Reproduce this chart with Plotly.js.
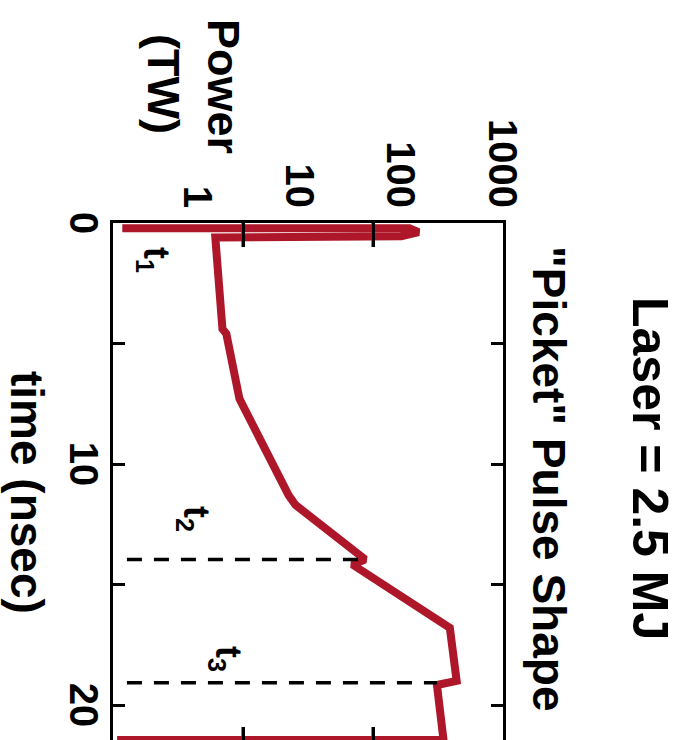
<!DOCTYPE html>
<html><head><meta charset="utf-8">
<script src="https://cdn.plot.ly/plotly-3.0.1.min.js"></script>
<style>
html,body{margin:0;padding:0;background:#fff;overflow:hidden;width:681px;height:740px;}
#wrap{position:absolute;left:0;top:0;width:740px;height:681px;overflow:hidden;transform-origin:0 0;transform:translate(681px,0) rotate(90deg);background:#fff;}
#chart{width:800px;height:681px;}
</style></head><body>
<div id="wrap"><div id="chart"></div></div>
<script>
// Laser pulse shape (time in ns, power in TW)
const timeNs  = [0.22, 0.22, 0.38, 0.55, 0.6, 4.4, 4.6, 7.3, 11.3, 11.7, 13.96, 14.17, 16.8, 19.0, 19.17, 21.45, 21.45];
const powerTW = [0.18, 120, 148, 100, 1.48, 1.74, 1.9, 2.56, 7.8, 9.1, 44, 33, 300, 350, 224, 260, 0.16];

// marker times t2, t3 (dashed lines)
const t2Time = [13.96, 13.96];
const t2Power = [0.2, 40];
const t3Time = [19.08, 19.08];
const t3Power = [0.2, 224];

// t labels
const markLabels = ['t<sub>1</sub>', 't<sub>2</sub>', 't<sub>3</sub>'];
const markLabelTime = [1.54, 12.3, 18.1];
const markLabelPower = [0.37, 0.92, 1.9];

// axis ticks
const timeTickVals = [0, 5, 10, 15, 20];
const timeTickText = ['0', '', '10', '', '20'];
const powerTickVals = [1, 10, 100, 1000];
const powerTickText = ['1', '10', '100', '1000'];

const FONT = 'Liberation Sans, Arial, Helvetica, sans-serif';
const RED = '#AD1729';

const powerRange = [-0.836, 3.0];
// frame tick marks split the power frame in thirds
const frameTickLogs = [1, 2].map(k => powerRange[0] + k * (powerRange[1] - powerRange[0]) / 3);
const frameTickVals = frameTickLogs.map(l => Math.pow(10, l));

const traces = [
  {x: timeNs, y: powerTW, mode: 'lines', line: {color: RED, width: 8, simplify: false}, hoverinfo: 'skip', showlegend: false},
  {x: t2Time, y: t2Power, yaxis: 'y2', mode: 'lines', line: {color: '#000', width: 3.5, dash: '15px,12px'}, showlegend: false},
  {x: t3Time, y: t3Power, yaxis: 'y2', mode: 'lines', line: {color: '#000', width: 3.5, dash: '15px,12px'}, showlegend: false}
];

// plot area in px: u 223..751, v 178..568
const L = 223, T = 178, W = 528, H = 390.5;
const px = u => (u - L) / W;
const py = v => (T + H - v) / H;
const TICKLEN = 24;

const annotations = [
  {text: 'Laser = 2.5 MJ', xref: 'paper', yref: 'paper', x: px(468), y: py(31), showarrow: false,
   xanchor: 'center', yanchor: 'middle', font: {family: FONT, size: 50, color: '#000', weight: 'bold'}},
  {text: '"Picket" Pulse Shape', xref: 'paper', yref: 'paper', x: px(478), y: py(132), showarrow: false,
   xanchor: 'center', yanchor: 'middle', font: {family: FONT, size: 46, color: '#000', weight: 'bold'}},
  {text: 'Power', xref: 'paper', yref: 'paper', x: px(86), y: py(458), showarrow: false,
   xanchor: 'center', yanchor: 'middle', font: {family: FONT, size: 45, color: '#000', weight: 'bold'}},
  {text: '(TW)', xref: 'paper', yref: 'paper', x: px(84), y: py(518), showarrow: false,
   xanchor: 'center', yanchor: 'middle', font: {family: FONT, size: 45, color: '#000', weight: 'bold'}},
  {text: 'time (nsec)', xref: 'paper', yref: 'paper', x: px(492), y: py(655), showarrow: false,
   xanchor: 'center', yanchor: 'middle', font: {family: FONT, size: 46, color: '#000', weight: 'bold'}}
];
markLabels.forEach((s, i) => annotations.push({
  text: s, xref: 'x', yref: 'y', x: markLabelTime[i], y: Math.log10(markLabelPower[i]), showarrow: false,
  xanchor: 'center', yanchor: 'middle', font: {family: FONT, size: 36, color: '#000', weight: 'bold'}
}));

// frame tick marks on both time edges of the plot frame (log axis shapes take data values)
const shapes = [];
frameTickVals.forEach(v => {
  shapes.push({type: 'line', layer: 'below', xref: 'x domain', yref: 'y', x0: 0, x1: TICKLEN / W, y0: v, y1: v,
    line: {color: '#000', width: 3}});
  shapes.push({type: 'line', layer: 'below', xref: 'x domain', yref: 'y', x0: 1 - TICKLEN / W, x1: 1, y0: v, y1: v,
    line: {color: '#000', width: 3}});
});

const layout = {
  width: 800, height: 681,
  margin: {l: L, r: 800 - L - W, t: T, b: 681 - T - H, pad: 0},
  paper_bgcolor: '#fff', plot_bgcolor: 'rgba(0,0,0,0)',
  showlegend: false,
  xaxis: {range: [0, W / 24.1], tickmode: 'array', tickvals: timeTickVals, ticktext: timeTickText,
    ticks: 'inside', ticklen: 12, tickwidth: 3, tickcolor: '#000',
    showline: true, linewidth: 3, linecolor: '#000', mirror: 'ticks',
    showgrid: false, zeroline: false, ticklabelstandoff: -8,
    tickfont: {family: FONT, size: 40, color: '#000', weight: 'bold'}},
  yaxis: {type: 'log', range: powerRange, tickmode: 'array', tickvals: frameTickVals,
    ticks: 'inside', ticklen: TICKLEN, tickwidth: 3, tickcolor: '#000', showticklabels: false,
    showline: true, linewidth: 3, linecolor: '#000', mirror: 'ticks',
    showgrid: false, zeroline: false},
  yaxis2: {type: 'log', range: powerRange, overlaying: 'y', side: 'left', tickmode: 'array',
    tickvals: powerTickVals, ticktext: powerTickText, ticks: '', showline: false,
    showgrid: false, zeroline: false, ticklabelstandoff: 14,
    tickfont: {family: FONT, size: 40, color: '#000', weight: 'bold'}},
  shapes: shapes,
  annotations: annotations
};

Plotly.newPlot('chart', traces, layout, {staticPlot: true, displayModeBar: false});
</script>
</body></html>
